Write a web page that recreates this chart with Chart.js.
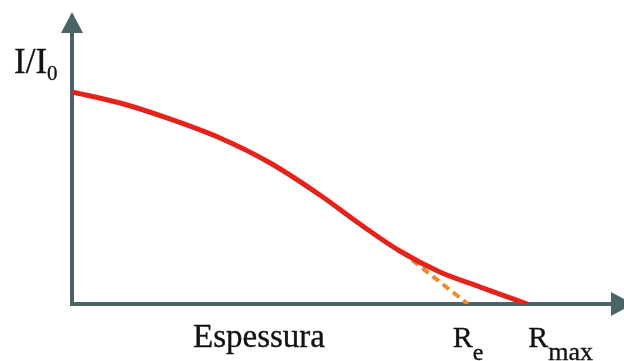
<!DOCTYPE html>
<html>
<head>
<meta charset="utf-8">
<script src="https://cdn.jsdelivr.net/npm/chart.js@4"></script>
<style>
  html, body { margin: 0; padding: 0; background: #ffffff; }
  #c { display: block; }
  .pre { font-family: "Liberation Serif", serif; position: absolute; left: -999px; top: -999px; }
</style>
</head>
<body>
<span class="pre">I/I0 Espessura Rmax Re</span>
<canvas id="c" width="624" height="361"></canvas>
<script>
// Curva de transmissão I/I0 em função da espessura (unidades arbitrárias)
const espessura   = [0, 8.9, 18.1, 27.4, 36.7, 45.9, 53.3, 60.7, 68.1, 75.6, 84.3];
const intensidade = [1.0, 0.948, 0.873, 0.783, 0.665, 0.514, 0.377, 0.250, 0.151, 0.080, 0];
// Tangente extrapolada até o eixo (alcance extrapolado Re)
const tangenteX = [61.1, 73.3];
const tangenteY = [0.245, 0];
// Rótulos
const rotuloY = { main: 'I/I', sub: '0' };
const rotuloX = 'Espessura';
const marcasX = [
  { value: 73.3, main: 'R', sub: 'e' },
  { value: 84.3, main: 'R', sub: 'max' }
];

const AXIS = '#4b6468';
const TXT = '#141212';
const FAM = '"Liberation Serif", "Times New Roman", "DejaVu Serif", serif';

function txt(ctx, s, x, y) {
  ctx.fillText(s, x, y);
  ctx.strokeText(s, x, y);
}

const decor = {
  id: 'decor',
  beforeDatasetsDraw(chart) {
    const ctx = chart.ctx, a = chart.chartArea;
    const x0 = a.left, y0 = a.bottom;
    ctx.save();
    ctx.strokeStyle = AXIS; ctx.fillStyle = AXIS; ctx.lineWidth = 4;
    ctx.beginPath();
    ctx.moveTo(x0, y0 + 2); ctx.lineTo(x0, 30);
    ctx.moveTo(x0 - 2, y0); ctx.lineTo(a.right, y0);
    ctx.stroke();
    ctx.beginPath();
    ctx.moveTo(x0, 12); ctx.lineTo(x0 - 11, 33); ctx.lineTo(x0 + 11, 33); ctx.closePath();
    ctx.fill();
    ctx.beginPath();
    ctx.moveTo(a.right - 1, y0 - 12); ctx.lineTo(a.right + 21, y0); ctx.lineTo(a.right - 1, y0 + 12); ctx.closePath();
    ctx.fill();
    ctx.restore();
  },
  afterDraw(chart) {
    const ctx = chart.ctx, xs = chart.scales.x;
    ctx.save();
    ctx.fillStyle = TXT;
    ctx.strokeStyle = TXT;
    ctx.lineWidth = 0.35;
    ctx.textBaseline = 'alphabetic';
    ctx.textAlign = 'left';
    ctx.font = '35px ' + FAM;
    txt(ctx, rotuloY.main, 14, 73);
    let w = ctx.measureText(rotuloY.main).width;
    ctx.font = '21px ' + FAM;
    txt(ctx, rotuloY.sub, 14 + w, 80);
    ctx.font = '33px ' + FAM;
    txt(ctx, rotuloX, 193, 347);
    marcasX.forEach((m, i) => {
      const px = xs.getPixelForValue(m.value);
      ctx.font = '30px ' + FAM;
      const rw = ctx.measureText(m.main).width;
      const left = i === 0 ? px - 15 : px + 1;
      txt(ctx, m.main, left, 347);
      ctx.font = (i === 0 ? '24px ' : '26px ') + FAM;
      txt(ctx, m.sub, left + rw, 360);
    });
    ctx.restore();
  }
};

function build() {
  new Chart(document.getElementById('c'), {
    type: 'line',
    data: {
      datasets: [
        {
          data: tangenteX.map((x, i) => ({ x, y: tangenteY[i] })),
          borderColor: '#ef8a2a',
          borderWidth: 4,
          borderDash: [8, 5],
          pointRadius: 0,
          fill: false,
          order: 2
        },
        {
          data: espessura.map((x, i) => ({ x, y: intensidade[i] })),
          borderColor: '#e3231c',
          borderWidth: 5,
          pointRadius: 0,
          cubicInterpolationMode: 'monotone',
          fill: false,
          order: 1
        }
      ]
    },
    options: {
      responsive: false,
      animation: false,
      layout: { padding: { left: 72, right: 12, top: 12, bottom: 57 } },
      plugins: { legend: { display: false }, tooltip: { enabled: false }, title: { display: false } },
      scales: {
        x: { type: 'linear', min: 0, max: 100, display: false },
        y: { min: 0, max: 1.377, display: false }
      }
    },
    plugins: [decor]
  });
}

if (document.fonts && document.fonts.load) {
  Promise.all([
    document.fonts.load('35px "Liberation Serif"'),
    document.fonts.load('21px "Liberation Serif"')
  ]).then(build, build);
} else {
  build();
}
</script>
</body>
</html>
